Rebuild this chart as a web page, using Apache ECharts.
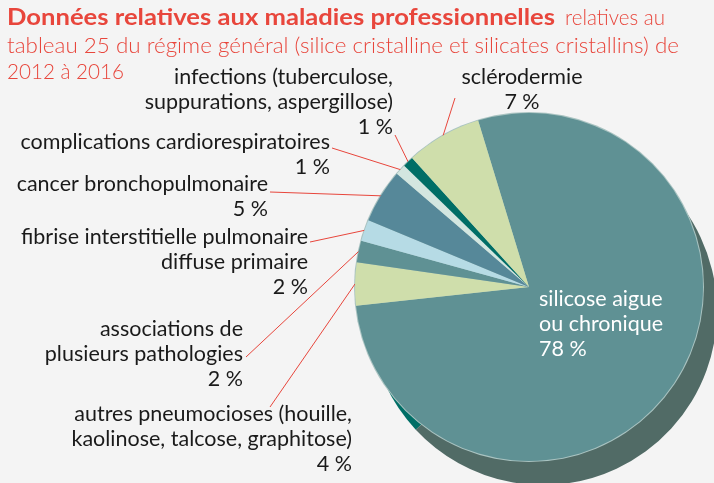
<!DOCTYPE html>
<html><head><meta charset="utf-8">
<script src="https://cdn.jsdelivr.net/npm/echarts@6/dist/echarts.min.js"></script>
<style>html,body{margin:0;padding:0;background:#f4f4f4}#c{width:714px;height:483px}</style>
</head><body><div id="c"></div>
<script>
// ---- data ----
const categories = [
  "silicose aigue\nou chronique",
  "autres pneumocioses (houille,\nkaolinose, talcose, graphitose)",
  "associations de\nplusieurs pathologies",
  "fibrise interstitielle pulmonaire\ndiffuse primaire",
  "cancer bronchopulmonaire",
  "complications cardiorespiratoires",
  "infections (tuberculose,\nsuppurations, aspergillose)",
  "sclérodermie"
];
const values = [78, 4, 2, 2, 5, 1, 1, 7];
const titleBold = "Données relatives aux maladies professionnelles";
const titleLines = ["relatives au", "tableau 25 du régime général (silice cristalline et silicates cristallins) de", "2012 à 2016"];

// ---- styles / layout ----
const sliceColors = ["#5f9194", "#cfdeab", "#5f9194", "#b6dbe5", "#568899", "#d3e6e0", "#006e66", "#cfdeab"];
const red = "#e8463c";
const labelPos = [
  {x: 539, y: 287, align: "left"},
  {x: 352, y: 402, align: "right", lx: 270, ly: 407},
  {x: 243, y: 317, align: "right", lx: 246, ly: 357},
  {x: 308, y: 225, align: "right", lx: 310, ly: 242},
  {x: 268, y: 172, align: "right", lx: 270, ly: 192},
  {x: 330, y: 130, align: "right", lx: 332, ly: 148},
  {x: 393, y: 65, align: "right", lx: 395, ly: 135},
  {x: 522, y: 65, align: "center", lx: 455, ly: 98}
];
// title text boxes: [text, font, x, y(middle), target width]
const titleBoxes = [
  [titleBold, 'bold 22px Lato', 7, 18, 548],
  [titleLines[0], '300 21px Lato', 565, 18, 100],
  [titleLines[1], '300 21px Lato', 7, 46, 672],
  [titleLines[2], '300 21px Lato', 7, 72, 117]
];

const ctx = document.createElement('canvas').getContext('2d');
function fitScale(text, font, w) { ctx.font = font; return w / ctx.measureText(text).width; }

const chart = echarts.init(document.getElementById('c'), null, {renderer: 'canvas'});
const pieData = categories.map((c, i) => {
  const d = {name: c, value: values[i], itemStyle: {color: sliceColors[i]}};
  if (i === 0) {
    d.label = {position: 'inside', color: '#ffffff'};
    d.labelLine = {show: false};
  }
  return d;
});

chart.setOption({
  backgroundColor: '#f4f4f4',
  animation: false,
  graphic: titleBoxes.map(t => ({
    type: 'text', x: t[2], y: t[3], scaleX: fitScale(t[0], t[1], t[4]), silent: true,
    style: {text: t[0], font: t[1], fill: red, textVerticalAlign: 'middle', verticalAlign: 'middle'}
  })),
  series: [
    {
      type: 'pie', silent: true, z: 1,
      center: [543, 311], radius: 174,
      startAngle: 223, clockwise: true,
      label: {show: false}, labelLine: {show: false},
      data: [{value: 18, itemStyle: {color: '#006e66'}}, {value: 342, itemStyle: {color: '#516b66'}}]
    },
    {
      type: 'pie', silent: true, z: 2,
      center: [529, 287], radius: 175,
      label: {show: false}, labelLine: {show: false},
      data: [{value: 1, itemStyle: {color: '#a9c3c1'}}]
    },
    {
      type: 'pie', z: 3,
      center: [529, 287], radius: 174,
      startAngle: 107, clockwise: true,
      avoidLabelOverlap: false,
      itemStyle: {borderWidth: 0},
      label: {
        show: true, position: 'outside',
        formatter: p => p.name + '\n' + p.value + ' %',
        fontFamily: 'Lato', fontSize: 21.5, lineHeight: 25, color: '#1a1a1a',
        overflow: 'none'
      },
      labelLine: {show: true, lineStyle: {color: red, width: 1}},
      labelLayout: function (p) {
        const L = labelPos[p.dataIndex];
        const out = {x: L.x, y: L.y, align: L.align, verticalAlign: 'top'};
        if (L.lx != null && p.labelLinePoints) {
          out.labelLinePoints = [p.labelLinePoints[0], [L.lx, L.ly]];
        }
        return out;
      },
      data: pieData
    }
  ]
});
</script>
</body></html>
